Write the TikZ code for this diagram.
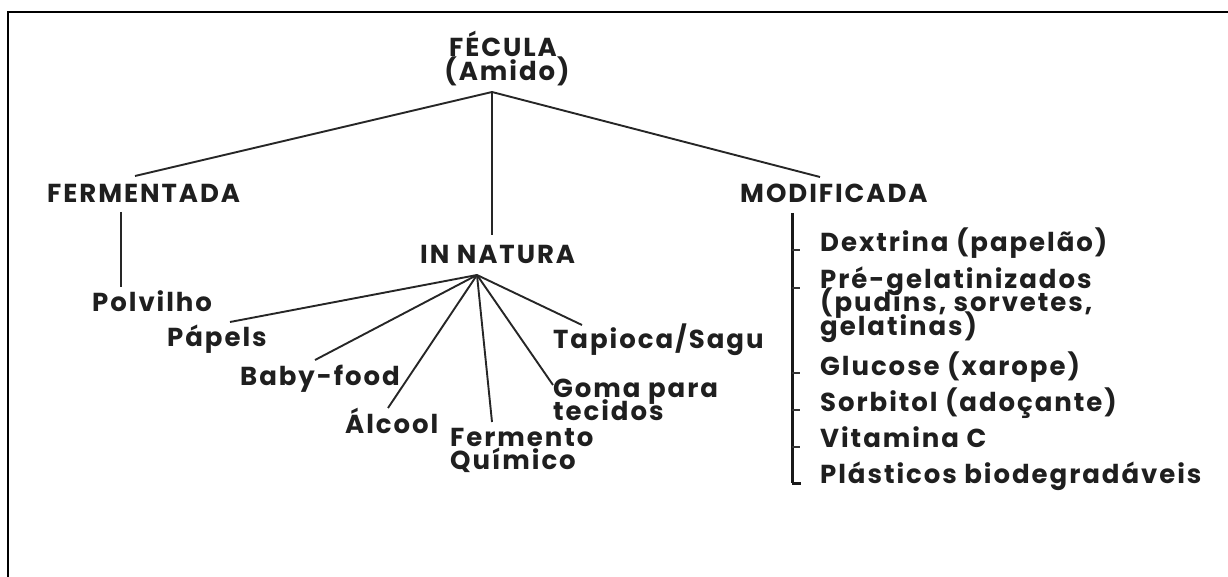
\documentclass[tikz,border=0pt]{standalone}
\usepackage{fontspec}
\setmainfont{Poppins}[LetterSpace=7.5]
\setlength{\lineskiplimit}{-100pt}
\begin{document}
\begin{tikzpicture}[x=1pt,y=-1pt,
  txt/.style={inner sep=0pt, font=\fontsize{26}{23.5}\selectfont\bfseries, text=black!88},
  ln/.style={line width=1.9pt, draw=black!85},
  tickln/.style={line width=1.2pt, draw=black!80},
  barln/.style={line width=3pt, draw=black!90}]
\useasboundingbox (0,0) rectangle (1228,577);
\draw[line width=2.6pt] (8,577) -- (8,12) -- (1228,12);

% headings
\node[txt, anchor=base] (fecula) at (503,57) {FÉCULA};
\node[txt, anchor=base] (amido) at (507,81) {(Amido)};
\node[txt, anchor=base west] (ferm) at (47,203) {FERMENTADA};
\node[txt, anchor=base west] (modif) at (740,203) {MODIFICADA};
\node[txt, anchor=base west] (natura) at (420,263) {IN NATURA};

% fermentada branch
\node[txt, anchor=base west] (polv) at (92,311) {Polvilho};

% in natura branch
\node[txt, anchor=base west] (papeis) at (167,346) {Pápels};
\node[txt, anchor=base west] (baby) at (240,385) {Baby-food};
\node[txt, anchor=base west] (alcool) at (345,433) {Álcool};
\node[txt, anchor=base west] (fermento) at (450,446) {\vtop{\hbox{Fermento}\hbox{Químico}}};
\node[txt, anchor=base west] (goma) at (553,397) {\vtop{\hbox{Goma para}\hbox{tecidos}}};
\node[txt, anchor=base west] (tapioca) at (553,348) {Tapioca/Sagu};

% modificada branch
\node[txt, anchor=base west] (dex) at (820,252) {Dextrina (papelão)};
\node[txt, anchor=base west] (pre) at (820,288) {\vtop{\hbox{Pré-gelatinizados}\hbox{(pudins, sorvetes,}\hbox{gelatinas)}}};
\node[txt, anchor=base west] (gluc) at (820,375) {Glucose (xarope)};
\node[txt, anchor=base west] (sorb) at (820,411) {Sorbitol (adoçante)};
\node[txt, anchor=base west] (vit) at (820,447) {Vitamina C};
\node[txt, anchor=base west] (plast) at (820,483) {Plásticos biodegradáveis};

% junctions and line ends
\coordinate (root) at (492,92);
\coordinate (fermEnd) at (135,176);
\coordinate (modEnd) at (820,177);
\coordinate (natTop) at (492,235);
\coordinate (polvTop) at (121,212);
\coordinate (polvBot) at (121,287);
\coordinate (nat) at (477,275);
\coordinate (papEnd) at (230,322);
\coordinate (babyEnd) at (315,360);
\coordinate (alcEnd) at (388,408);
\coordinate (ferEnd) at (492,422);
\coordinate (gomEnd) at (553,385);
\coordinate (tapEnd) at (582,325);
\coordinate (barTop) at (792,213);
\coordinate (barBot) at (792,483);
\coordinate (barEnd) at (801,483);

% connectors
\draw[ln] (fermEnd) -- (root) -- (modEnd);
\draw[ln] (root) -- (natTop);
\draw[ln] (polvTop) -- (polvBot);
\foreach \e in {papEnd,babyEnd,alcEnd,ferEnd,gomEnd,tapEnd}
  \draw[ln] (nat) -- (\e);

% modificada bracket
\draw[barln] (barTop) -- (barBot);
\draw[barln] (barBot) -- (barEnd);
\foreach \y in {250,288,373,410,447}
  \draw[tickln] (792,\y) -- (800,\y);
\end{tikzpicture}
\end{document}
